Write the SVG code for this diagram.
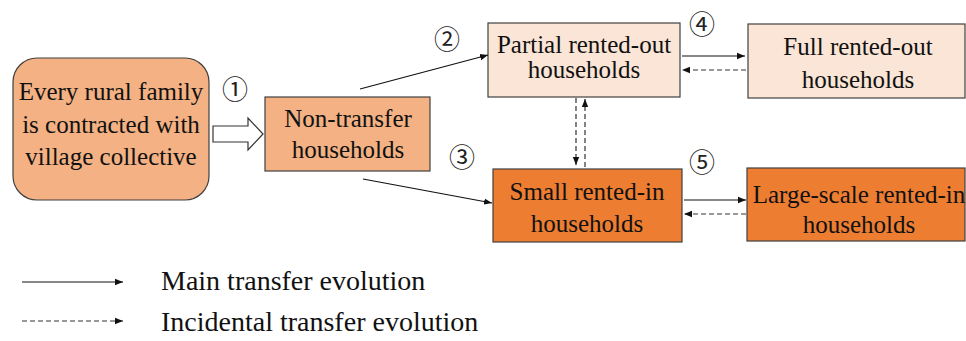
<svg xmlns="http://www.w3.org/2000/svg" width="966" height="341" viewBox="0 0 966 341">
<style>
.t{font-family:'Liberation Serif',serif;font-size:25px;fill:#111;text-anchor:middle}
.lg{font-family:'Liberation Serif',serif;font-size:28px;fill:#111}
.n{font-family:'Noto Sans CJK SC','DejaVu Sans',sans-serif;font-size:26px;fill:#222;text-anchor:middle}
.box{stroke:#404040;stroke-width:1.2}
.c1{fill:#F4B183}.c2{fill:#FBE5D6}.c3{fill:#ED7D31}
.s{stroke:#111;stroke-width:1.2;fill:none;marker-end:url(#ah)}
.d{stroke:#333;stroke-width:1.2;fill:none;stroke-dasharray:5 3;marker-end:url(#ah)}
</style>
<defs>
<marker id="ah" viewBox="0 0 10 10" refX="10" refY="5" markerWidth="8" markerHeight="8" markerUnits="userSpaceOnUse" orient="auto">
<path d="M0,1 L10,5 L0,9 z" fill="#111"/>
</marker>
</defs>
<rect width="966" height="341" fill="#fff"/>
<g id="every-family">
<rect class="box c1" x="13" y="58" width="196" height="142" rx="24"/>
<text class="t" x="111" y="100">Every rural family</text>
<text class="t" x="111" y="133">is contracted with</text>
<text class="t" x="111" y="165">village collective</text>
</g>
<g id="non-transfer">
<rect class="box c1" x="265" y="97" width="165" height="74"/>
<text class="t" x="348" y="127">Non-transfer</text>
<text class="t" x="348" y="158">households</text>
</g>
<g id="partial-out">
<rect class="box c2" x="488" y="23" width="192" height="74"/>
<text class="t" x="584" y="53">Partial rented-out</text>
<text class="t" x="584" y="78">households</text>
</g>
<g id="full-out">
<rect class="box c2" x="748" y="24" width="217" height="74"/>
<text class="t" x="858" y="55">Full rented-out</text>
<text class="t" x="858" y="88">households</text>
</g>
<g id="small-in">
<rect class="box c3" x="493" y="169" width="189" height="73"/>
<text class="t" x="587" y="200">Small rented-in</text>
<text class="t" x="587" y="232">households</text>
</g>
<g id="large-in">
<rect class="box c3" x="747" y="168" width="218" height="73"/>
<text class="t" x="859" y="203">Large-scale rented-in</text>
<text class="t" x="859" y="233">households</text>
</g>
<g id="connectors">
<path d="M213,126 L248,126 L248,118 L263,134 L248,150 L248,142 L213,142 z" fill="#fff" stroke="#333" stroke-width="1.2"/>
<line class="s" x1="360" y1="89" x2="488" y2="55"/>
<line class="s" x1="363" y1="179" x2="492" y2="203"/>
<line class="s" x1="682" y1="56" x2="745" y2="56"/>
<line class="d" x1="746" y1="70" x2="682" y2="70"/>
<line class="s" x1="684" y1="200" x2="746" y2="200"/>
<line class="d" x1="746" y1="214" x2="684" y2="214"/>
<line class="d" x1="576" y1="98" x2="576" y2="165"/>
<line class="d" x1="585" y1="167" x2="585" y2="99"/>
</g>
<g id="step-labels">
<text class="n" x="235" y="99">①</text>
<text class="n" x="447" y="49">②</text>
<text class="n" x="462" y="167">③</text>
<text class="n" x="702" y="34">④</text>
<text class="n" x="702" y="172">⑤</text>
</g>
<g id="legend">
<line class="s" x1="22" y1="282" x2="123" y2="282"/>
<line class="d" x1="22" y1="321" x2="123" y2="321"/>
<text class="lg" x="161" y="290">Main transfer evolution</text>
<text class="lg" x="161" y="331">Incidental transfer evolution</text>
</g>
</svg>
